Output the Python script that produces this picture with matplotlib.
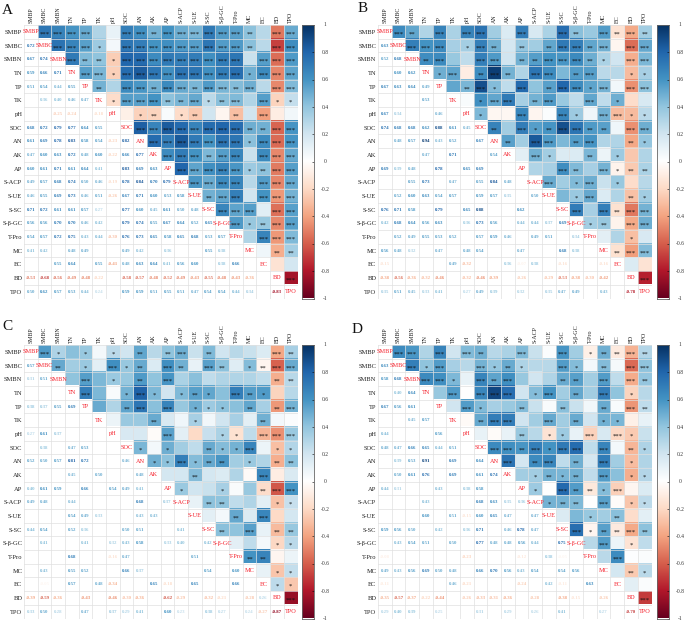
import numpy as np
import matplotlib
matplotlib.use("Agg")
import matplotlib.pyplot as plt
from matplotlib.colors import LinearSegmentedColormap

plt.rcParams["font.family"] = ["Liberation Serif", "DejaVu Serif"]

names = ["SMBP", "SMBC", "SMBN", "TN", "TP", "TK", "pH", "SOC", "AN", "AK", "AP", "S-ACP",
         "S-UE", "S-SC", "S-β-GC", "T-Pro", "MC", "EC", "BD", "TPO"]
panel_letters = ["A", "B", "C", "D"]
bar_ticks = [1, 0.8, 0.6, 0.4, 0.2, 0, -0.2, -0.4, -0.6, -0.8, -1]

# lower triangle, row by row (values without a printed label)
vals_a = [[.72], [.67, .74], [.59, .66, .71], [.51, .54, .44, .55], [.30, .36, .40, .46, .47],
          [.10, .05, -.25, -.24, .30, -.18], [.68, .72, .79, .77, .64, .55, -.08],
          [.61, .69, .78, .83, .58, .54, -.23, .82], [.47, .60, .63, .72, .48, .60, -.22, .66, .77],
          [.60, .61, .71, .61, .64, .41, .03, .83, .69, .63],
          [.49, .57, .68, .74, .50, .46, -.19, .78, .84, .70, .79],
          [.46, .55, .69, .73, .46, .51, -.26, .67, .71, .60, .53, .58],
          [.71, .72, .61, .61, .57, .27, .20, .77, .60, .45, .61, .50, .48],
          [.56, .56, .70, .70, .46, .42, -.05, .79, .74, .55, .67, .64, .52, .65],
          [.54, .57, .72, .75, .43, .44, -.30, .76, .73, .65, .58, .65, .68, .53, .57],
          [.41, .42, .22, .48, .49, .30, .20, .49, .42, .22, .36, .28, .20, .55, .38, .30],
          [.28, .27, .55, .64, .27, .55, -.41, .48, .63, .64, .41, .56, .60, .13, .38, .66, .07],
          [-.53, -.68, -.56, -.49, -.48, -.22, -.10, -.58, -.57, -.48, -.52, -.49, -.43, -.55, -.48, -.43, -.36, -.15],
          [.50, .62, .57, .53, .44, .24, .06, .59, .59, .51, .55, .51, .47, .54, .54, .44, .34, .18, -.83]]

vals_b = [[.63], [.52, .68], [.30, .60, .62], [.67, .63, .64, .49], [.32, .33, .38, .53, .52],
          [.67, .34, .25, -.10, .46, .03], [.74, .68, .68, .62, .88, .61, .45],
          [.35, .48, .57, .94, .43, .52, -.04, .67], [.15, .18, .20, .47, .25, .71, -.04, .35, .54],
          [.69, .39, .48, .30, .78, .33, .65, .69, .35, .12],
          [.17, .35, .55, .73, .40, .47, -.05, .55, .84, .48, .30],
          [.32, .52, .60, .63, .54, .57, .02, .59, .57, .35, .33, .50],
          [.76, .71, .58, .45, .79, .37, .65, .88, .45, .15, .62, .35, .45],
          [.42, .68, .64, .56, .63, .25, .36, .73, .56, .15, .44, .44, .37, .69],
          [.37, .52, .49, .55, .53, .52, .07, .57, .59, .46, .33, .49, .51, .33, .34],
          [.56, .48, .32, .27, .47, .25, .48, .54, .30, .08, .47, .22, .15, .68, .38, .12],
          [-.15, -.05, .20, .28, .06, .49, -.32, .07, .30, .36, -.07, .38, .30, -.16, -.07, .30, -.16],
          [-.38, -.56, -.36, -.32, -.46, -.18, -.32, -.46, -.39, -.27, -.26, -.18, -.29, -.53, -.38, -.30, -.42, .15],
          [.35, .51, .45, .33, .41, .17, .27, .49, .39, .30, .32, .28, .35, .47, .49, .17, .43, -.15, -.78]]

vals_c = [[.57], [.31, .51], [.42, .35, .40], [.38, .37, .55, .69], [.05, .12, .45, .45, .50],
          [.27, .61, .37, .03, .30, .08], [.20, .38, .38, .47, .53, .37, .17],
          [.52, .50, .57, .81, .72, .37, .17, .46], [.28, .15, .40, .45, .42, .50, -.02, .05, .48],
          [.40, .61, .59, .20, .66, .17, .54, .49, .41, .18],
          [.49, .48, .32, .44, .38, .07, .12, .35, .68, .18, .37],
          [.22, .10, .42, .54, .49, .33, -.20, .25, .43, .43, .20, .10],
          [.44, .54, .25, .52, .36, .06, .23, .50, .51, .18, .22, .41, .12],
          [.20, .41, .30, .42, .41, .20, .32, .43, .58, .15, .33, .40, .05, .42],
          [.28, .14, .30, .68, .42, .33, -.16, .47, .35, .30, .03, .25, .51, .40, .12],
          [.22, .43, .30, .55, .52, .12, .25, .66, .37, -.03, .38, .30, .15, .54, .25, .60],
          [.15, -.05, .25, .57, .33, .48, -.34, .08, .30, .65, -.18, .12, .65, .10, .05, .66, .10],
          [-.39, -.59, -.36, -.22, -.43, .05, -.46, -.30, -.36, -.10, -.62, -.29, -.20, -.32, -.21, -.05, -.28, .26],
          [.33, .50, .28, .28, .47, .02, .37, .29, .41, .16, .60, .23, .18, .38, .27, .08, .24, -.27, -.87]]

vals_d = [[.63], [.58, .68], [.30, .40, .64], [.67, .56, .61, .38], [.20, .33, .45, .57, .20],
          [.44, .28, .10, .00, .56, -.03], [.48, .47, .66, .65, .44, .51, .10],
          [.28, .39, .53, .91, .33, .69, -.02, .64], [.32, .50, .61, .76, .37, .69, .10, .61, .74],
          [.44, .31, .38, .20, .43, .20, .38, .58, .18, .35],
          [.22, .28, .20, .43, .22, .35, .28, .68, .63, .35, .36],
          [.02, .28, .30, .60, .03, .51, -.15, .60, .65, .47, .00, .47],
          [.59, .56, .50, .35, .42, .35, .36, .71, .25, .46, .78, .47, .15],
          [.35, .43, .54, .51, .22, .50, .10, .77, .48, .48, .56, .44, .45, .75],
          [-.08, .05, .35, .35, .06, .20, -.23, .25, .18, .25, -.12, .00, .38, -.05, .28],
          [.49, .43, .56, .69, .50, .48, .17, .66, .70, .56, .43, .54, .35, .54, .56, .27],
          [-.11, .04, .25, .40, .03, .46, -.21, .05, .35, .42, -.24, -.02, .42, -.11, .08, .63, .18],
          [-.35, -.57, -.37, -.22, -.44, -.08, -.26, -.33, -.31, -.36, -.05, -.28, -.18, -.38, -.15, .01, -.26, .12],
          [.29, .40, .39, .28, .25, .10, .22, .31, .30, .29, .15, .26, .12, .41, .25, .02, .27, .02, -.70]]

# upper triangle, number of stars in each cell, row by row
stars_a = [[3, 3, 3, 3, 0, 0, 3, 3, 2, 3, 3, 3, 3, 3, 3, 2, 0, 3, 3],
           [3, 3, 3, 1, 0, 3, 3, 3, 3, 3, 3, 3, 3, 3, 2, 0, 3, 3],
           [3, 2, 2, 1, 3, 3, 3, 3, 3, 3, 3, 3, 3, 0, 3, 3, 3],
           [3, 3, 1, 3, 3, 3, 3, 3, 3, 3, 3, 3, 1, 3, 3, 3],
           [2, 0, 3, 3, 2, 3, 3, 2, 3, 3, 2, 3, 0, 3, 3],
           [1, 3, 3, 3, 2, 2, 3, 1, 2, 3, 0, 3, 1, 1],
           [0, 1, 2, 0, 1, 2, 0, 0, 2, 0, 3, 0, 0],
           [3, 3, 3, 3, 3, 3, 3, 3, 2, 2, 3, 3],
           [3, 3, 3, 3, 3, 3, 3, 1, 3, 3, 3],
           [3, 3, 3, 2, 3, 3, 0, 3, 3, 3],
           [3, 3, 3, 3, 3, 1, 2, 3, 3],
           [3, 3, 3, 3, 0, 3, 3, 3],
           [2, 3, 3, 0, 3, 3, 3],
           [3, 3, 3, 0, 3, 3],
           [3, 1, 2, 3, 3],
           [0, 3, 3, 3],
           [0, 2, 2],
           [0, 0],
           [3]]
stars_b = [[3, 2, 0, 3, 0, 3, 3, 0, 0, 3, 0, 0, 3, 2, 0, 3, 2, 3, 2],
           [3, 3, 3, 0, 1, 3, 2, 0, 2, 0, 2, 3, 3, 2, 3, 0, 3, 3],
           [2, 3, 0, 0, 3, 3, 0, 2, 2, 3, 3, 3, 2, 1, 0, 3, 3],
           [1, 3, 0, 2, 3, 2, 0, 3, 3, 0, 2, 3, 0, 0, 1, 1],
           [0, 2, 3, 1, 0, 3, 0, 2, 3, 3, 1, 3, 0, 3, 3],
           [0, 1, 3, 3, 0, 2, 3, 0, 0, 3, 0, 1, 0, 0],
           [1, 0, 0, 3, 0, 0, 3, 1, 0, 3, 3, 1, 1],
           [2, 0, 3, 1, 2, 3, 3, 2, 2, 0, 3, 3],
           [2, 0, 3, 3, 0, 2, 3, 0, 0, 2, 1],
           [0, 3, 1, 0, 0, 2, 0, 1, 0, 0],
           [0, 0, 3, 2, 0, 3, 1, 2, 2],
           [3, 0, 1, 3, 0, 1, 0, 0],
           [0, 1, 3, 0, 0, 2, 1],
           [3, 0, 3, 2, 3, 3],
           [1, 2, 0, 3, 3],
           [0, 0, 1, 0],
           [2, 3, 3],
           [0, 0],
           [3]]
stars_c = [[3, 1, 0, 1, 0, 1, 0, 2, 0, 2, 3, 0, 2, 0, 0, 0, 0, 3, 2],
           [2, 0, 1, 0, 3, 1, 2, 0, 3, 2, 0, 3, 2, 0, 1, 2, 3, 3],
           [0, 3, 0, 1, 0, 2, 0, 3, 0, 0, 0, 0, 0, 0, 0, 2, 2],
           [3, 0, 0, 1, 3, 1, 0, 1, 2, 1, 0, 3, 2, 1, 0, 0],
           [0, 0, 2, 3, 0, 3, 0, 1, 1, 1, 0, 2, 0, 2, 3],
           [0, 0, 0, 2, 0, 0, 1, 0, 0, 0, 0, 2, 0, 0],
           [0, 0, 0, 3, 0, 0, 0, 1, 1, 0, 3, 3, 3],
           [1, 0, 1, 0, 0, 2, 1, 1, 3, 0, 1, 1],
           [1, 1, 3, 1, 2, 2, 0, 1, 0, 2, 2],
           [0, 0, 2, 0, 0, 0, 0, 3, 0, 0],
           [1, 0, 0, 1, 0, 0, 2, 3, 3],
           [0, 2, 2, 0, 0, 0, 1, 1],
           [0, 0, 2, 0, 3, 0, 0],
           [2, 0, 3, 0, 2, 2],
           [0, 0, 0, 1, 1],
           [2, 2, 0, 0],
           [0, 1, 1],
           [1, 1],
           [3]]
stars_d = [[3, 3, 0, 3, 0, 3, 2, 0, 0, 3, 0, 0, 3, 0, 1, 2, 2, 3, 2],
           [3, 1, 3, 0, 0, 3, 1, 2, 1, 0, 0, 3, 1, 0, 2, 0, 3, 3],
           [3, 3, 1, 0, 3, 2, 3, 0, 0, 0, 2, 2, 0, 3, 0, 3, 2],
           [0, 3, 0, 3, 3, 3, 0, 1, 3, 0, 2, 0, 3, 0, 1, 0],
           [0, 3, 1, 0, 0, 2, 0, 0, 2, 0, 0, 2, 0, 3, 2],
           [0, 2, 3, 3, 0, 0, 3, 0, 2, 0, 1, 1, 0, 0],
           [0, 0, 0, 2, 0, 1, 1, 0, 3, 0, 3, 1, 0],
           [3, 3, 2, 3, 1, 3, 3, 0, 3, 0, 2, 1],
           [3, 0, 2, 3, 0, 2, 0, 3, 0, 1, 0],
           [0, 1, 2, 1, 2, 0, 3, 0, 1, 1],
           [1, 0, 3, 2, 2, 1, 3, 0, 0],
           [1, 2, 2, 0, 3, 0, 1, 1],
           [0, 0, 1, 0, 2, 0, 0],
           [3, 1, 2, 2, 3, 2],
           [0, 3, 0, 1, 0],
           [0, 3, 0, 0],
           [0, 2, 1],
           [0, 0],
           [3]]

cmap = LinearSegmentedColormap.from_list("corr", ["#67001F", "#B2182B", "#D6604D", "#F4A582", "#FDDBC7", "#FFFFFF",
                                                  "#D1E5F0", "#92C5DE", "#4393C3", "#2166AC", "#053061"])

W, H = 685, 623
# left, top of each matrix and of its colour bar, in pixels of the figure
boxes = [(24, 25, 302), (378, 25, 657), (24, 345, 302), (378, 345, 657)]
letter_pos = [(2, 10), (358, 8), (2, 327), (352, 330)]
side = 273.5
bar_w = 11.5


def px_axes(fig, x, y, w, h):
    return fig.add_axes([x / W, 1 - (y + h) / H, w / W, h / H])


fig = plt.figure(figsize=(W / 100, H / 100), dpi=100)
n = len(names)

for k, (vals, stars) in enumerate([(vals_a, stars_a), (vals_b, stars_b), (vals_c, stars_c), (vals_d, stars_d)]):
    left, top, bar_left = boxes[k]
    ax = px_axes(fig, left, top, side, side)

    # fill the upper triangle from the lower one, lower cells stay white
    m = np.full((n, n), np.nan)
    for i, row in enumerate(vals):
        for j, v in enumerate(row):
            m[j, i + 1] = v

    ax.imshow(m, cmap=cmap, vmin=-1, vmax=1, aspect="auto", interpolation="nearest",
              extent=(0, n, n, 0))
    for t in range(n + 1):
        ax.axhline(t, color="#e0e0e0", lw=0.5, zorder=2)
        ax.axvline(t, color="#e0e0e0", lw=0.5, zorder=2)

    for i, row in enumerate(vals):
        for j, v in enumerate(row):
            s = stars[j][i - j]
            if s > 0:
                # lower cell gets the number, upper cell the stars
                ax.text(j + 0.5, i + 1.5, f"{v:.2f}", color=cmap((v + 1) / 2), fontsize=3.5, fontweight="bold",
                        ha="center", va="center", zorder=3)
                ax.text(i + 1.5, j + 0.66, "*" * s, color="#111111", fontsize=4.8, ha="center", va="center", zorder=3)

    for i, name in enumerate(names):
        ax.text(i + 0.5, i + 0.5, name, color="#f5222d", fontsize=4.5, ha="center", va="center", zorder=4)

    ax.set_xlim(0, n)
    ax.set_ylim(n, 0)
    ax.xaxis.tick_top()
    ax.set_xticks(np.arange(n) + 0.5, names, rotation=90, fontsize=4.3, color="#222222")
    ax.set_yticks(np.arange(n) + 0.5, names, fontsize=4.7, color="#222222")
    ax.tick_params(length=0, pad=1.2)
    for sp in ax.spines.values():
        sp.set_visible(False)

    # colour bar
    cax = px_axes(fig, bar_left, top, bar_w, side)
    grad = np.linspace(1, -1, 256).reshape(-1, 1)
    cax.imshow(grad, cmap=cmap, vmin=-1, vmax=1, aspect="auto", extent=(0, 1, -1, 1))
    cax.set_xticks([])
    cax.yaxis.tick_right()
    cax.set_yticks(bar_ticks, [])
    cax.tick_params(axis="y", direction="in", length=1.5, width=0.4)
    for b in bar_ticks:
        cax.text(2.0, b, f"{b:g}", fontsize=4.0, color="#333333", ha="center", va="center", clip_on=False)
    for sp in cax.spines.values():
        sp.set_linewidth(0.6)
        sp.set_color("#666666")

    fig.text(letter_pos[k][0] / W, 1 - letter_pos[k][1] / H, panel_letters[k], fontsize=11,
             ha="left", va="center", color="#111111")

fig.savefig("out.png", dpi=100)
